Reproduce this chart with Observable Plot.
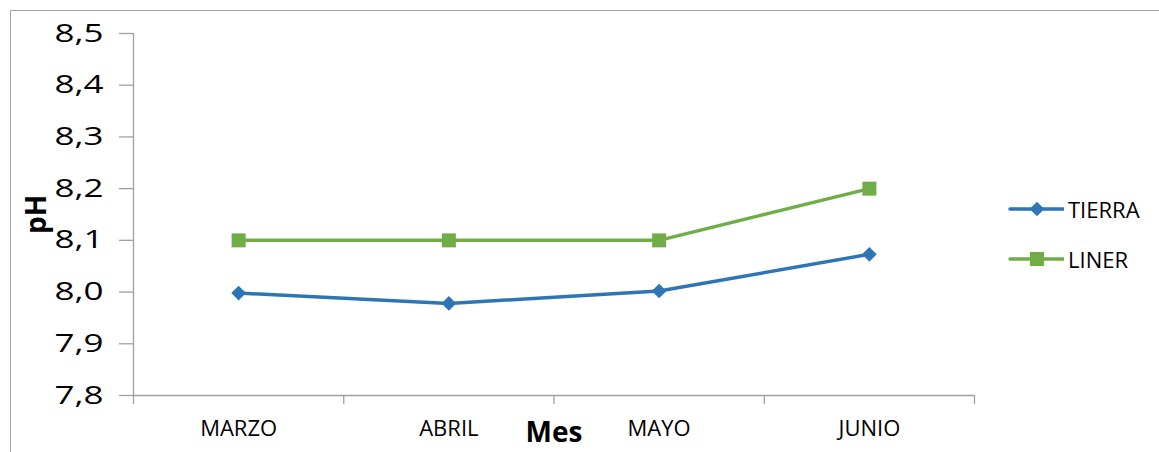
<!DOCTYPE html>
<html>
<head>
<meta charset="utf-8">
<script src="https://cdn.jsdelivr.net/npm/d3@7"></script>
<script src="https://cdn.jsdelivr.net/npm/@observablehq/plot@0.6"></script>
<style>
  html, body { margin: 0; padding: 0; background: #fff; }
  #wrap { position: relative; width: 1159px; height: 452px; overflow: hidden; background: #fff; }
  #frame { position: absolute; left: 10px; top: 10px; width: 1200px; height: 500px;
           border-top: 1px solid #a6a6a6; border-left: 1px solid #a6a6a6; pointer-events: none; }
  #legend { position: absolute; left: 1008px; top: 0; font-family: "Open Sans", sans-serif; font-size: 22px; color: #000; }
  .item { position: absolute; left: 0; display: flex; align-items: center; white-space: nowrap; }
  .item svg { display: block; }
  .item span { margin-left: 4px; }
</style>
</head>
<body>
<div id="wrap">
  <div id="chart"></div>
  <div id="frame"></div>
  <div id="legend"></div>
</div>
<script>
// Monthly pH readings for the two treatments
const months = ["MARZO", "ABRIL", "MAYO", "JUNIO"];
const tierra = [7.998, 7.978, 8.002, 8.073];
const liner = [8.1, 8.1, 8.1, 8.2];
const seriesNames = ["TIERRA", "LINER"];
const seriesColors = ["#2e75b6", "#70ad47"];
const yTicks = [7.8, 7.9, 8.0, 8.1, 8.2, 8.3, 8.4, 8.5];

const rows = [
  ...months.map((m, i) => ({month: m, idx: i + 0.5, value: tierra[i], serie: "TIERRA"})),
  ...months.map((m, i) => ({month: m, idx: i + 0.5, value: liner[i], serie: "LINER"}))
];

const axisGray = "#a0a0a0";
const fmt = d => d.toFixed(1).replace(".", ",");

const chart = Plot.plot({
  width: 1159,
  height: 452,
  marginLeft: 133,
  marginRight: 185,
  marginTop: 33,
  marginBottom: 57,
  style: {fontFamily: "Open Sans, sans-serif", background: "transparent", color: "#000"},
  x: {type: "linear", domain: [0, months.length], label: null},
  y: {domain: [7.8, 8.5], label: null},
  color: {domain: seriesNames, range: seriesColors},
  marks: [
    // axis lines
    Plot.ruleX([0], {stroke: axisGray, strokeWidth: 1.3}),
    Plot.ruleY([7.8], {stroke: axisGray, strokeWidth: 1.3}),
    // category boundary ticks
    Plot.axisX({ticks: d3.range(0, months.length + 1), tickSize: 9, tickFormat: () => "", label: null,
                stroke: axisGray, strokeWidth: 1.3}),
    // category labels
    Plot.axisX({ticks: months.map((m, i) => i + 0.5), tickSize: 0, tickPadding: 25, label: null,
                tickFormat: v => months[Math.round(v - 0.5)], fontSize: 22, fill: "#000"}),
    // value axis
    Plot.axisY({ticks: yTicks, tickSize: 14, tickPadding: 16, tickFormat: fmt, label: null,
                fontSize: 25, stroke: axisGray, strokeWidth: 1.3, fill: "#000"}),
    // axis titles
    Plot.text(["Mes"], {frameAnchor: "bottom", lineAnchor: "middle", textAnchor: "middle", dy: 38,
                        fontSize: 28, fontWeight: "bold", fill: "#000"}),
    Plot.text(["pH"], {frameAnchor: "left", lineAnchor: "middle", textAnchor: "middle", dx: -96, rotate: -90,
                       fontSize: 28, fontWeight: "bold", fill: "#000"}),
    // series
    Plot.line(rows, {x: "idx", y: "value", z: "serie", stroke: "serie", strokeWidth: 3.5}),
    Plot.dot(rows.filter(d => d.serie === "TIERRA"), {x: "idx", y: "value", symbol: "diamond2", r: 6.6, fill: "serie", stroke: "none"}),
    Plot.dot(rows.filter(d => d.serie === "LINER"), {x: "idx", y: "value", symbol: "square", r: 7.9, fill: "serie", stroke: "none"})
  ]
});
document.getElementById("chart").appendChild(chart);

// widen the value-axis numerals horizontally, keeping their right edge on the tick
const yLabels = new Set(yTicks.map(fmt));
d3.select(chart).selectAll("text").filter(function () { return yLabels.has(this.textContent); })
  .each(function () {
    const el = d3.select(this);
    const t = el.attr("transform");
    if (t) {
      el.attr("transform", t + " scale(1.4,1)");
    } else {
      const x = +el.attr("x") || 0, y = +el.attr("y") || 0;
      el.attr("x", null).attr("y", null).attr("transform", `translate(${x},${y}) scale(1.4,1)`);
    }
  });

// legend
const legend = d3.select("#legend");
const legendTops = [210, 260];
seriesNames.forEach((name, i) => {
  const item = legend.append("div").attr("class", "item").style("top", (legendTops[i] - 16) + "px").style("height", "30px");
  const svg = item.append("svg").attr("width", 56).attr("height", 30);
  svg.append("line").attr("x1", 2).attr("x2", 55).attr("y1", 15).attr("y2", 15)
    .attr("stroke", seriesColors[i]).attr("stroke-width", 3.5).attr("stroke-linecap", "round");
  const sym = i === 0 ? d3.symbolDiamond2 : d3.symbolSquare;
  const size = i === 0 ? Math.PI * 6.6 * 6.6 : Math.PI * 7.9 * 7.9;
  svg.append("path").attr("transform", "translate(29,15)").attr("d", d3.symbol(sym, size)()).attr("fill", seriesColors[i]);
  item.append("span").text(name);
});
</script>
</body>
</html>
